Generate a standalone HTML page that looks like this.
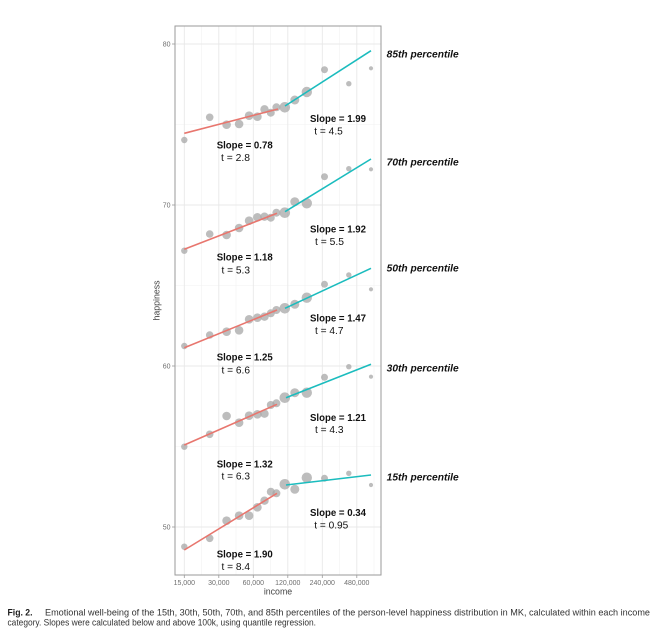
<!DOCTYPE html>
<html>
<head>
<meta charset="utf-8">
<style>
html,body{margin:0;padding:0;background:#fff;}
body{width:662px;height:639px;overflow:hidden;}
svg{display:block;}
</style>
</head>
<body>
<svg width="662" height="639" viewBox="0 0 662 639" xmlns="http://www.w3.org/2000/svg" font-family="'Liberation Sans', Arial, sans-serif">
  <rect x="0" y="0" width="662" height="639" fill="#fff"/>
  <!-- panel background -->
  <rect x="175" y="26" width="206" height="549" fill="#fff"/>
  <!-- minor grid -->
  <g stroke="#f2f2f2" stroke-width="0.6">
    <line x1="201.5" y1="26" x2="201.5" y2="575"/>
    <line x1="236" y1="26" x2="236" y2="575"/>
    <line x1="270.5" y1="26" x2="270.5" y2="575"/>
    <line x1="305" y1="26" x2="305" y2="575"/>
    <line x1="339.5" y1="26" x2="339.5" y2="575"/>
    <line x1="374" y1="26" x2="374" y2="575"/>
    <line x1="175" y1="124.5" x2="381" y2="124.5"/>
    <line x1="175" y1="285.5" x2="381" y2="285.5"/>
    <line x1="175" y1="446.5" x2="381" y2="446.5"/>
  </g>
  <!-- major grid -->
  <g stroke="#e8e8e8" stroke-width="0.9">
    <line x1="184.3" y1="26" x2="184.3" y2="575"/>
    <line x1="218.8" y1="26" x2="218.8" y2="575"/>
    <line x1="253.3" y1="26" x2="253.3" y2="575"/>
    <line x1="287.8" y1="26" x2="287.8" y2="575"/>
    <line x1="322.3" y1="26" x2="322.3" y2="575"/>
    <line x1="356.8" y1="26" x2="356.8" y2="575"/>
    <line x1="175" y1="44" x2="381" y2="44"/>
    <line x1="175" y1="205" x2="381" y2="205"/>
    <line x1="175" y1="366" x2="381" y2="366"/>
    <line x1="175" y1="527" x2="381" y2="527"/>
  </g>

  <!-- points -->
  <g fill="#a3a3a3" fill-opacity="0.72">
    <!-- 85th -->
    <circle cx="184.3" cy="140" r="3.2"/><circle cx="209.7" cy="117.3" r="3.8"/><circle cx="226.6" cy="124.7" r="4.3"/><circle cx="239.1" cy="124" r="4.3"/><circle cx="249.1" cy="115.7" r="4.3"/><circle cx="257.4" cy="116.7" r="4.3"/><circle cx="264.5" cy="109.3" r="4.2"/><circle cx="270.8" cy="112.7" r="4"/><circle cx="276.4" cy="107.3" r="4"/><circle cx="284.8" cy="107.3" r="5.3"/><circle cx="294.8" cy="100" r="4.5"/><circle cx="306.8" cy="92" r="5.2"/><circle cx="324.5" cy="69.7" r="3.5"/><circle cx="348.8" cy="83.7" r="2.7"/><circle cx="371" cy="68.3" r="2.1"/>
    <!-- 70th -->
    <circle cx="184.3" cy="250.7" r="3.2"/><circle cx="209.7" cy="234" r="3.8"/><circle cx="226.6" cy="235" r="4.3"/><circle cx="239.1" cy="228" r="4.3"/><circle cx="249.1" cy="220.7" r="4.3"/><circle cx="257.4" cy="217.3" r="4.3"/><circle cx="264.5" cy="216.7" r="4.2"/><circle cx="270.8" cy="217.7" r="4"/><circle cx="276.4" cy="212.7" r="4"/><circle cx="284.8" cy="212.7" r="5.3"/><circle cx="294.8" cy="201.7" r="4.5"/><circle cx="306.8" cy="203.3" r="5.2"/><circle cx="324.5" cy="176.7" r="3.5"/><circle cx="348.8" cy="168.7" r="2.7"/><circle cx="371" cy="169.3" r="2.1"/>
    <!-- 50th -->
    <circle cx="184.3" cy="346" r="3.2"/><circle cx="209.7" cy="335" r="3.8"/><circle cx="226.6" cy="331.7" r="4.3"/><circle cx="239.1" cy="330.3" r="4.3"/><circle cx="249.1" cy="319.3" r="4.3"/><circle cx="257.4" cy="317.7" r="4.3"/><circle cx="264.5" cy="316.7" r="4.2"/><circle cx="270.8" cy="313.3" r="4"/><circle cx="276.4" cy="310" r="4"/><circle cx="284.8" cy="308.3" r="5.3"/><circle cx="294.8" cy="304.3" r="4.5"/><circle cx="306.8" cy="297.7" r="5.2"/><circle cx="324.5" cy="284.3" r="3.5"/><circle cx="348.8" cy="275" r="2.7"/><circle cx="371" cy="289.3" r="2.1"/>
    <!-- 30th -->
    <circle cx="184.3" cy="446.7" r="3.2"/><circle cx="209.7" cy="434.3" r="3.8"/><circle cx="226.6" cy="416" r="4.3"/><circle cx="239.1" cy="422.7" r="4.3"/><circle cx="249.1" cy="415.7" r="4.3"/><circle cx="257.4" cy="414.3" r="4.3"/><circle cx="264.5" cy="413.7" r="4.2"/><circle cx="270.8" cy="405" r="4"/><circle cx="276.4" cy="403.3" r="4"/><circle cx="284.8" cy="397.7" r="5.3"/><circle cx="294.8" cy="392.7" r="4.5"/><circle cx="306.8" cy="392.7" r="5.2"/><circle cx="324.5" cy="377.3" r="3.5"/><circle cx="348.8" cy="366.7" r="2.7"/><circle cx="371" cy="376.7" r="2.1"/>
    <!-- 15th -->
    <circle cx="184.3" cy="546.7" r="3.2"/><circle cx="209.7" cy="538.3" r="3.8"/><circle cx="226.6" cy="520.7" r="4.3"/><circle cx="239.1" cy="515.7" r="4.3"/><circle cx="249.1" cy="515.7" r="4.3"/><circle cx="257.4" cy="507.3" r="4.3"/><circle cx="264.5" cy="500.7" r="4.2"/><circle cx="270.8" cy="491.7" r="4"/><circle cx="276.4" cy="493.3" r="4"/><circle cx="284.8" cy="484.3" r="5.3"/><circle cx="294.8" cy="489.3" r="4.5"/><circle cx="306.8" cy="477.7" r="5.2"/><circle cx="324.5" cy="478.3" r="3.5"/><circle cx="348.8" cy="473.3" r="2.7"/><circle cx="371" cy="485" r="2.1"/>
  </g>

  <!-- regression lines -->
  <g stroke-width="1.6" stroke-linecap="butt" fill="none">
    <line x1="184.3" y1="133.3" x2="278" y2="109" stroke="#E8766E"/>
    <line x1="285" y1="106" x2="371" y2="50.7" stroke="#1BBCBE"/>
    <line x1="184.3" y1="249.3" x2="277" y2="213.3" stroke="#E8766E"/>
    <line x1="285" y1="211.7" x2="371" y2="159" stroke="#1BBCBE"/>
    <line x1="184.3" y1="347.7" x2="277" y2="310" stroke="#E8766E"/>
    <line x1="285" y1="308.3" x2="371" y2="268.3" stroke="#1BBCBE"/>
    <line x1="184.3" y1="445" x2="277" y2="404.3" stroke="#E8766E"/>
    <line x1="286" y1="397.7" x2="371" y2="364.3" stroke="#1BBCBE"/>
    <line x1="184.3" y1="550" x2="277" y2="493.3" stroke="#E8766E"/>
    <line x1="286" y1="485" x2="371" y2="475" stroke="#1BBCBE"/>
  </g>

  <!-- panel border -->
  <rect x="175" y="26" width="206" height="549" fill="none" stroke="#9a9a9a" stroke-width="1"/>

  <!-- ticks -->
  <g stroke="#9a9a9a" stroke-width="0.8">
    <line x1="172" y1="44" x2="175" y2="44"/>
    <line x1="172" y1="205" x2="175" y2="205"/>
    <line x1="172" y1="366" x2="175" y2="366"/>
    <line x1="172" y1="527" x2="175" y2="527"/>
    <line x1="184.3" y1="575" x2="184.3" y2="578"/>
    <line x1="218.8" y1="575" x2="218.8" y2="578"/>
    <line x1="253.3" y1="575" x2="253.3" y2="578"/>
    <line x1="287.8" y1="575" x2="287.8" y2="578"/>
    <line x1="322.3" y1="575" x2="322.3" y2="578"/>
    <line x1="356.8" y1="575" x2="356.8" y2="578"/>
  </g>
  <g font-size="7" fill="#6e6e6e" text-anchor="end">
    <text x="170.5" y="46.5">80</text>
    <text x="170.5" y="207.5">70</text>
    <text x="170.5" y="368.5">60</text>
    <text x="170.5" y="529.5">50</text>
  </g>
  <g font-size="7" fill="#6e6e6e" text-anchor="middle">
    <text x="184.3" y="584.8">15,000</text>
    <text x="218.8" y="584.8">30,000</text>
    <text x="253.3" y="584.8">60,000</text>
    <text x="287.8" y="584.8">120,000</text>
    <text x="322.3" y="584.8">240,000</text>
    <text x="356.8" y="584.8">480,000</text>
  </g>
  <text x="278" y="594.5" font-size="8.8" fill="#444" text-anchor="middle">income</text>
  <text transform="translate(159.5,300.5) rotate(-90)" font-size="8.8" fill="#444" text-anchor="middle">happiness</text>

  <!-- slope annotations -->
  <g font-size="10.5" fill="#111">
    <text x="216.7" y="148.5" font-weight="bold" textLength="56" lengthAdjust="spacingAndGlyphs">Slope = 0.78</text>
    <text x="221" y="160.8" textLength="29" lengthAdjust="spacingAndGlyphs">t = 2.8</text>
    <text x="310" y="122" font-weight="bold" textLength="56" lengthAdjust="spacingAndGlyphs">Slope = 1.99</text>
    <text x="314.3" y="134.3" textLength="28.5" lengthAdjust="spacingAndGlyphs">t = 4.5</text>

    <text x="216.7" y="260.7" font-weight="bold" textLength="56" lengthAdjust="spacingAndGlyphs">Slope = 1.18</text>
    <text x="221.5" y="273.3" textLength="28.5" lengthAdjust="spacingAndGlyphs">t = 5.3</text>
    <text x="310" y="232.7" font-weight="bold" textLength="56" lengthAdjust="spacingAndGlyphs">Slope = 1.92</text>
    <text x="315" y="245" textLength="29" lengthAdjust="spacingAndGlyphs">t = 5.5</text>

    <text x="216.7" y="360.3" font-weight="bold" textLength="56" lengthAdjust="spacingAndGlyphs">Slope = 1.25</text>
    <text x="221.5" y="373.3" textLength="28.5" lengthAdjust="spacingAndGlyphs">t = 6.6</text>
    <text x="310" y="321.7" font-weight="bold" textLength="56" lengthAdjust="spacingAndGlyphs">Slope = 1.47</text>
    <text x="315" y="334" textLength="28.5" lengthAdjust="spacingAndGlyphs">t = 4.7</text>

    <text x="216.7" y="467.3" font-weight="bold" textLength="56" lengthAdjust="spacingAndGlyphs">Slope = 1.32</text>
    <text x="221.5" y="479.5" textLength="28.5" lengthAdjust="spacingAndGlyphs">t = 6.3</text>
    <text x="310" y="421" font-weight="bold" textLength="56" lengthAdjust="spacingAndGlyphs">Slope = 1.21</text>
    <text x="315" y="433" textLength="28.5" lengthAdjust="spacingAndGlyphs">t = 4.3</text>

    <text x="216.7" y="557.3" font-weight="bold" textLength="56" lengthAdjust="spacingAndGlyphs">Slope = 1.90</text>
    <text x="221.5" y="570" textLength="28.5" lengthAdjust="spacingAndGlyphs">t = 8.4</text>
    <text x="310" y="516" font-weight="bold" textLength="56" lengthAdjust="spacingAndGlyphs">Slope = 0.34</text>
    <text x="314.3" y="528.7" textLength="34" lengthAdjust="spacingAndGlyphs">t = 0.95</text>
  </g>

  <!-- percentile labels -->
  <g font-size="10.2" font-weight="bold" font-style="italic" fill="#111">
    <text x="386.7" y="57.3" textLength="72" lengthAdjust="spacingAndGlyphs">85th percentile</text>
    <text x="386.7" y="165.7" textLength="72" lengthAdjust="spacingAndGlyphs">70th percentile</text>
    <text x="386.7" y="271.6" textLength="72" lengthAdjust="spacingAndGlyphs">50th percentile</text>
    <text x="386.7" y="371.6" textLength="72" lengthAdjust="spacingAndGlyphs">30th percentile</text>
    <text x="386.7" y="480.6" textLength="72" lengthAdjust="spacingAndGlyphs">15th percentile</text>
  </g>

  <!-- caption -->
  <g font-size="8.8" fill="#333">
    <text x="7.5" y="615.5" font-weight="bold" fill="#1a1a1a" textLength="25" lengthAdjust="spacingAndGlyphs">Fig. 2.</text>
    <text x="45" y="615.5" textLength="605" lengthAdjust="spacingAndGlyphs">Emotional well-being of the 15th, 30th, 50th, 70th, and 85th percentiles of the person-level happiness distribution in MK, calculated within each income</text>
    <text x="7.5" y="625.3" textLength="308.5" lengthAdjust="spacingAndGlyphs">category. Slopes were calculated below and above 100k, using quantile regression.</text>
  </g>
</svg>
</body>
</html>
